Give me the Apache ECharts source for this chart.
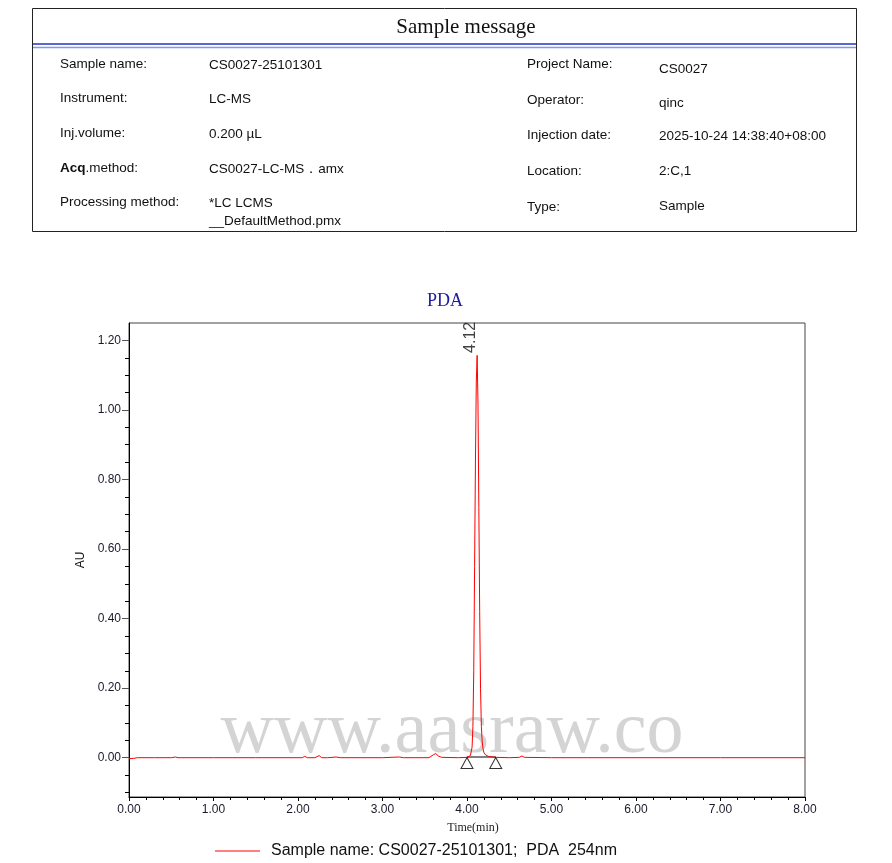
<!DOCTYPE html>
<html>
<head>
<meta charset="utf-8">
<script src="https://cdn.jsdelivr.net/npm/echarts@6/dist/echarts.min.js"></script>
<style>
html,body{margin:0;padding:0;background:#fff;}
#chart{width:892px;height:863px;}
</style>
</head>
<body>
<div id="chart"></div>
<script>
// ---------- data ----------
const timeMin = [0.00,0.05,0.10,0.30,0.50,0.55,0.58,1.00,1.50,2.00,2.05,2.08,2.11,2.20,2.25,2.28,2.35,2.45,2.50,3.00,3.20,3.25,3.55,3.60,3.63,3.66,3.70,3.90,4.00,4.04,4.06,4.07,4.08,4.09,4.10,4.11,4.12,4.13,4.14,4.15,4.16,4.17,4.18,4.19,4.20,4.22,4.25,4.30,4.35,4.50,4.62,4.65,4.68,5.00,6.00,7.00,8.00];
const absorbance = [-0.003,-0.002,0.000,0.000,0.000,0.002,0.000,0.000,0.000,0.000,0.000,0.004,0.000,0.000,0.006,0.000,0.000,0.002,0.000,0.000,0.002,0.000,0.000,0.008,0.012,0.005,0.001,0.000,0.001,0.006,0.030,0.090,0.250,0.550,0.850,1.080,1.157,1.020,0.720,0.420,0.200,0.090,0.045,0.025,0.015,0.008,0.004,0.002,0.001,0.000,0.001,0.005,0.001,0.000,0.000,0.000,0.000];
const peakTime = 4.12;
const peakValue = 1.157;
const peakLabel = '4.12';
const baselineTimes = [4.00, 4.34];
const baselineValues = [0.002, 0.002];
const yLabelValues = [0.00,0.20,0.40,0.60,0.80,1.00,1.20];
const yMinorValues = [-0.10,-0.05,0.05,0.10,0.15,0.25,0.30,0.35,0.45,0.50,0.55,0.65,0.70,0.75,0.85,0.90,0.95,1.05,1.10,1.15];
const seriesName = 'Sample name: CS0027-25101301;  PDA  254nm';

const infoLeft = [
  ['Sample name:', 'CS0027-25101301'],
  ['Instrument:', 'LC-MS'],
  ['Inj.volume:', '0.200 µL'],
  ['Acq.method:', 'CS0027-LC-MS．amx'],
  ['Processing method:', '*LC LCMS\n__DefaultMethod.pmx']
];
const infoRight = [
  ['Project Name:', 'CS0027'],
  ['Operator:', 'qinc'],
  ['Injection date:', '2025-10-24 14:38:40+08:00'],
  ['Location:', '2:C,1'],
  ['Type:', 'Sample']
];

// ---------- build ----------
const lineData = timeMin.map((t, i) => [t, absorbance[i]]);
const baseData = baselineTimes.map((t, i) => [t, baselineValues[i]]);

const sansFont = '13.5px "Liberation Sans", Arial, sans-serif';
const graphics = [];
graphics.push({type:'rect', shape:{x:32.5, y:8.5, width:824, height:223}, style:{fill:'none', stroke:'#222', lineWidth:1}});
graphics.push({type:'text', x:466, y:27, style:{text:'Sample message', font:'21px "Liberation Serif", serif', fill:'#111', align:'center', verticalAlign:'middle'}});
graphics.push({type:'line', shape:{x1:33, y1:44, x2:856, y2:44}, style:{stroke:'#2233c8', lineWidth:1.5}});
graphics.push({type:'line', shape:{x1:33, y1:47.5, x2:856, y2:47.5}, style:{stroke:'#8896e6', lineWidth:1.5}});
const leftY = [64, 98, 133, 168, 202];
const rightLabelY = [64, 100, 135, 171, 207];
const rightValueY = [69, 103, 136, 171, 206];
infoLeft.forEach((row, i) => {
  if (i === 3) {
    graphics.push({type:'text', x:60, y:leftY[i], style:{text:'{b|Acq}.method:', rich:{b:{font:'bold 13.5px "Liberation Sans", Arial, sans-serif', fill:'#111'}}, font:sansFont, fill:'#111', verticalAlign:'middle'}});
  } else {
    graphics.push({type:'text', x:60, y:leftY[i], style:{text:row[0], font:sansFont, fill:'#111', verticalAlign:'middle'}});
  }
  graphics.push({type:'text', x:209, y:leftY[i] - 8, style:{text:row[1], font:sansFont, fill:'#111', verticalAlign:'top', lineHeight:18}});
});
infoRight.forEach((row, i) => {
  graphics.push({type:'text', x:527, y:rightLabelY[i], style:{text:row[0], font:sansFont, fill:'#111', verticalAlign:'middle'}});
  graphics.push({type:'text', x:659, y:rightValueY[i], style:{text:row[1], font:sansFont, fill:'#111', verticalAlign:'middle'}});
});
graphics.push({type:'text', x:452, y:733, z:-10, style:{text:'www.aasraw.co', font:'74px "Liberation Serif", serif', fill:'#d4d4d4', align:'center', verticalAlign:'middle'}});

const chart = echarts.init(document.getElementById('chart'), null, {renderer:'canvas'});
const axisFont = 'Liberation Sans, Arial, sans-serif';
chart.setOption({
  animation: false,
  backgroundColor: '#fff',
  title: {
    text: 'PDA', left: 422, top: 287,
    textStyle: {color:'#1c1c9c', fontFamily:'Liberation Serif, serif', fontSize:18, fontWeight:'normal'}
  },
  legend: {
    data: [{name: seriesName, itemStyle:{color:'#ff0000', borderWidth:0}}],
    left: 210, top: 838, icon: 'rect', itemWidth: 45, itemHeight: 1.2,
    itemGap: 10,
    textStyle: {color:'#111', fontSize:16, fontFamily:axisFont, padding:[0,0,0,6]}
  },
  grid: {left:129, right:87, top:323, bottom:66, show:true, borderColor:'#444', borderWidth:1, containLabel:false},
  xAxis: {
    type:'value', min:0, max:8, interval:1,
    name:'Time(min)', nameLocation:'middle', nameGap:25,
    nameTextStyle:{fontFamily:'Liberation Serif, serif', fontSize:12, color:'#222', padding:[0,0,0,12]},
    axisLine:{onZero:false, lineStyle:{color:'#000', width:1}},
    axisTick:{length:4, lineStyle:{color:'#000'}},
    minorTick:{show:true, splitNumber:5, length:3, lineStyle:{color:'#000'}},
    axisLabel:{formatter:v => v.toFixed(2), color:'#1a1a2a', fontSize:12, fontFamily:axisFont, margin:7},
    splitLine:{show:false}
  },
  yAxis: [{
    type:'value', min:-0.113, max:1.25, position:'left',
    name:'AU', nameLocation:'middle', nameGap:36, nameRotate:90,
    nameTextStyle:{fontFamily:axisFont, fontSize:12, color:'#111'},
    axisLine:{show:true, onZero:false, lineStyle:{color:'#000', width:1}},
    axisTick:{show:true, length:7, customValues: yLabelValues, lineStyle:{color:'#555'}},
    axisLabel:{customValues: yLabelValues, formatter:v => v.toFixed(2), color:'#1a1a2a', fontSize:12, fontFamily:axisFont, margin:8},
    splitLine:{show:false}
  }, {
    type:'value', min:-0.113, max:1.25, position:'left', offset:0,
    axisLine:{show:false, onZero:false},
    axisTick:{show:true, length:4, customValues: yMinorValues, lineStyle:{color:'#000'}},
    axisLabel:{show:false},
    splitLine:{show:false}
  }],
  series: [{
    name: seriesName, type:'line', data: lineData, yAxisIndex:0,
    showSymbol:false, symbol:'none', color:'#ff0000', itemStyle:{color:'#ff0000'},
    lineStyle:{color:'#ff0000', width:1}, z:5
  }, {
    name:'baseline', type:'line', data: baseData, yAxisIndex:0,
    showSymbol:false, symbol:'none', lineStyle:{color:'#000', width:1}, z:4
  }, {
    name:'markers', type:'scatter', data: baseData, yAxisIndex:0,
    symbol:'triangle', symbolSize:[12,11], symbolOffset:[0,6],
    itemStyle:{color:'rgba(255,255,255,0)', borderColor:'#000', borderWidth:1}, z:6
  }, {
    name:'peak', type:'scatter', data:[[peakTime, peakValue]], yAxisIndex:0,
    symbol:'circle', symbolSize:1, itemStyle:{color:'rgba(0,0,0,0)'}, z:7,
    label:{show:true, formatter: peakLabel, position:'inside', rotate:90, offset:[18,-7],
      color:'#111', fontSize:16, fontFamily:axisFont}
  }],
  graphic: graphics
});
</script>
</body>
</html>
